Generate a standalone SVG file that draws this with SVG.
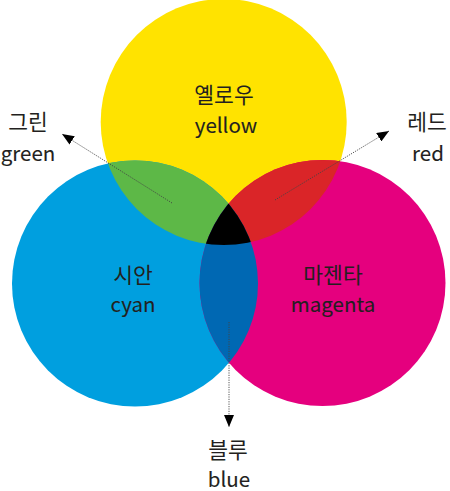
<svg xmlns="http://www.w3.org/2000/svg" width="450" height="491" viewBox="0 0 450 491">
<style>
.ko{font-family:"Noto Sans CJK KR","Noto Sans",sans-serif;font-size:21.5px;fill:#231f20;text-anchor:middle}
.en{font-family:"Noto Sans CJK KR","Noto Sans",sans-serif;font-size:20.5px;fill:#231f20;text-anchor:middle;stroke:#231f20;stroke-width:0.1}
.con{stroke:#444;stroke-width:0.9;stroke-dasharray:1.2 1.2;fill:none}
</style>
<defs>
<clipPath id="cY"><circle cx="223.7" cy="122" r="123"/></clipPath>
<clipPath id="cC"><circle cx="135" cy="283.5" r="123"/></clipPath>
<marker id="arr" viewBox="0 0 12 10" refX="12" refY="5" markerWidth="12" markerHeight="10" markerUnits="userSpaceOnUse" orient="auto">
<path d="M0,0 L12,5 L0,10 Z" fill="#000"/>
</marker>
</defs>
<rect width="450" height="491" fill="#fff"/>
<g id="yellow">
<circle cx="223.7" cy="122" r="123" fill="#ffe300"/>
</g>
<g id="cyan">
<circle cx="135" cy="283.5" r="123" fill="#009fdf"/>
</g>
<g id="magenta">
<circle cx="322.5" cy="283" r="123" fill="#e5007e"/>
</g>
<g id="green">
<g clip-path="url(#cY)"><circle cx="135" cy="283.5" r="123" fill="#5db847"/></g>
</g>
<g id="red">
<g clip-path="url(#cY)"><circle cx="322.5" cy="283" r="123" fill="#da2528"/></g>
</g>
<g id="blue">
<g clip-path="url(#cC)"><circle cx="322.5" cy="283" r="123" fill="#0068b3"/></g>
</g>
<g id="black">
<g clip-path="url(#cY)"><g clip-path="url(#cC)"><circle cx="322.5" cy="283" r="123" fill="#000"/></g></g>
</g>
<g id="connectors">
<line class="con" x1="172" y1="203" x2="62" y2="134" marker-end="url(#arr)"/>
<line class="con" x1="275" y1="200" x2="389" y2="131" marker-end="url(#arr)"/>
<line class="con" x1="229" y1="322" x2="229" y2="427" marker-end="url(#arr)"/>
</g>
<g id="labels">
<text class="ko" x="224" y="103">옐로우</text>
<text class="en" x="226" y="133">yellow</text>
<text class="ko" x="28" y="130">그린</text>
<text class="en" x="28" y="161">green</text>
<text class="ko" x="427" y="130">레드</text>
<text class="en" x="428" y="161">red</text>
<text class="ko" x="133" y="283">시안</text>
<text class="en" x="133" y="312">cyan</text>
<text class="ko" x="333" y="283">마젠타</text>
<text class="en" x="333" y="312">magenta</text>
<text class="ko" x="228" y="458">블루</text>
<text class="en" x="229" y="487">blue</text>
</g>
</svg>
